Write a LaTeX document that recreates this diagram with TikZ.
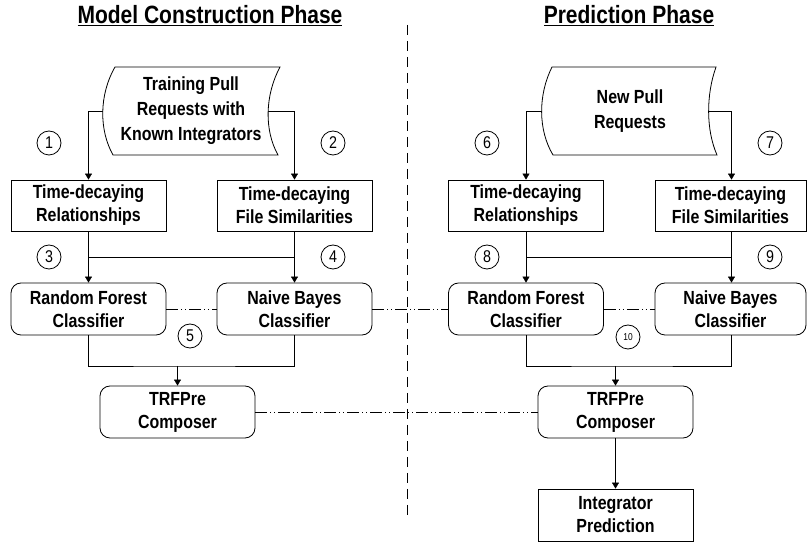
\documentclass[tikz,border=0pt]{standalone}
\usepackage{fontspec}
\setmainfont{Liberation Sans}[FakeStretch=0.84]
\usetikzlibrary{arrows.meta,backgrounds,calc}
\begin{document}
\begin{tikzpicture}[x=1pt,y=-1pt,line width=0.8pt,
  box/.style={draw,rectangle,fill=white,inner sep=0pt,minimum width=155pt,minimum height=51pt,align=center,font=\fontsize{19}{23}\selectfont\bfseries},
  rbox/.style={box,rounded corners=10pt,minimum height=52pt},
  num/.style={draw,circle,inner sep=0pt,minimum size=24pt,font=\fontsize{17}{17}\selectfont},
  arr/.style={-{Triangle[length=6pt,width=7pt]}},
  ddot/.style={dash pattern=on 12pt off 3pt on 1pt off 3pt on 1pt off 3pt},
  docshape/.style={draw,fill=white},
  doctext/.style={inner sep=0pt,align=center,font=\fontsize{19}{25}\selectfont\bfseries},
  title/.style={inner sep=0pt,font=\fontsize{25}{25}\selectfont\bfseries}]
\useasboundingbox (0,0) rectangle (807,545);

% titles
\node[title] (t1) at (210,16) {\underline{Model Construction Phase}};
\node[title] (t2) at (629,16) {\underline{Prediction Phase}};

% separator
\draw[dash pattern=on 10pt off 6pt] (407,25) -- (407,515);

% document shapes
\draw[docshape] (115,67) -- (280,67) .. controls (265,95) and (264,130) .. (278,155) -- (113,155) .. controls (99,130) and (99,95) .. (115,67) -- cycle;
\node[doctext] (doc1) at (191,111) {Training Pull\\Requests with\\Known Integrators};
\draw[docshape] (552,67) -- (716,67) .. controls (706,95) and (706,130) .. (717,155) -- (553,155) .. controls (538,130) and (538,95) .. (552,67) -- cycle;
\node[doctext] (doc2) at (630,111) {New Pull\\Requests};

% left boxes
\node[box] (trel) at (88.5,205.5) {Time-decaying\\Relationships};
\node[box] (tfile) at (294.5,205.5) {Time-decaying\\File Similarities};
\node[rbox] (rf) at (88.5,309) {Random Forest\\Classifier};
\node[rbox] (nb) at (294.5,309) {Naive Bayes\\Classifier};
\node[rbox] (comp) at (177.5,412) {TRFPre\\Composer};

% right boxes
\node[box] (trel2) at (526,205.5) {Time-decaying\\Relationships};
\node[box,minimum width=151pt] (tfile2) at (730.5,205.5) {Time-decaying\\File Similarities};
\node[rbox] (rf2) at (526,309) {Random Forest\\Classifier};
\node[rbox,minimum width=151pt] (nb2) at (730.5,309) {Naive Bayes\\Classifier};
\node[rbox] (comp2) at (615.5,412) {TRFPre\\Composer};
\node[box,minimum height=52pt] (integ) at (615.5,515) {Integrator\\Prediction};

% number circles
\node[num] (c1) at (49,143) {1};
\node[num] (c2) at (333,143) {2};
\node[num] (c3) at (49,257) {3};
\node[num] (c4) at (333,257) {4};
\node[num] (c5) at (190,336) {5};
\node[num] (c6) at (487,143) {6};
\node[num] (c7) at (770,143) {7};
\node[num] (c8) at (487,257) {8};
\node[num] (c9) at (770,257) {9};
\node[num,font=\fontsize{10}{10}\selectfont] (c10) at (628,337) {10};

\coordinate (m1) at (177.5,366);
\coordinate (m2) at (615.5,366);

\begin{pgfonlayer}{background}
\draw[arr] (doc1.center) -| (trel.north);
\draw[arr] (doc1.center) -| (tfile.north);
\draw[arr] (doc2.center) -| (trel2.north);
\draw[arr] (doc2.center) -| ([xshift=1pt]tfile2.north);
\end{pgfonlayer}

% left flows
\draw[arr] (trel) -- (rf);
\draw[arr] (tfile) -- (nb);
\draw ($(trel.south)!0.5!(rf.north)$) -- ($(tfile.south)!0.5!(nb.north)$);
\draw (rf.south) |- (m1) -| (nb.south);
\draw[arr] (m1) -- (comp);

% right flows
\draw[arr] (trel2) -- (rf2);
\draw[arr] ([xshift=1pt]tfile2.south) -- ([xshift=1pt]nb2.north);
\draw ($(trel2.south)!0.5!(rf2.north)$) -- ($([xshift=1pt]tfile2.south)!0.5!([xshift=1pt]nb2.north)$);
\draw (rf2.south) |- (m2) -| ([xshift=1pt]nb2.south);
\draw[arr] (m2) -- (comp2);
\draw[arr] (comp2) -- (integ);

% dash-dot links
\draw[ddot] (rf.east) -- (nb.west);
\draw[ddot] (nb.east) -- (rf2.west);
\draw[ddot] (rf2.east) -- (nb2.west);
\draw[ddot] (comp.east) -- (comp2.west);
\end{tikzpicture}
\end{document}
